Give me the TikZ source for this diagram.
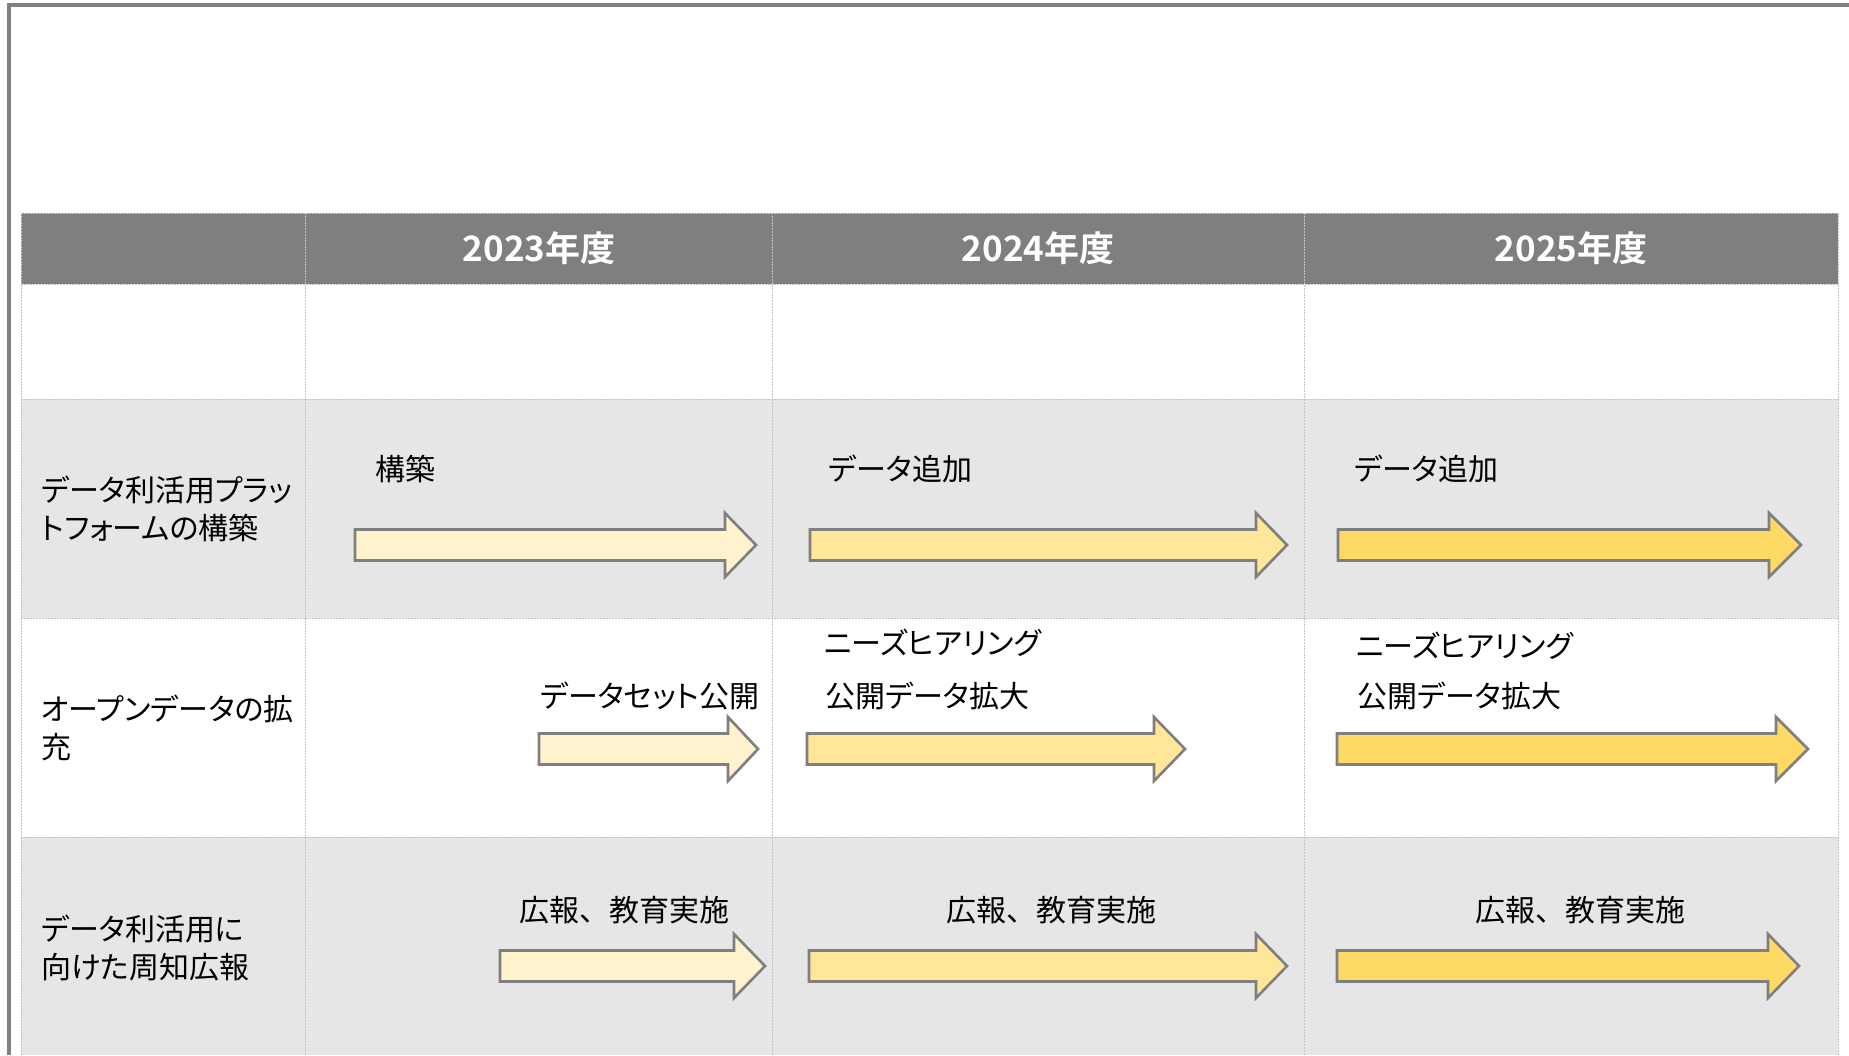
\documentclass[tikz,border=0pt]{standalone}
\usepackage{fontspec}
\newfontfamily\jp[CharacterWidth=AlternateProportional]{Noto Sans CJK JP}
\newfontfamily\jpfull{Noto Sans CJK JP}
\newfontfamily\jpbold{Noto Sans CJK JP Bold}
\definecolor{hdrgray}{HTML}{7F7F7F}
\definecolor{rowgray}{HTML}{E6E6E6}
\definecolor{gridc}{HTML}{C4C4C4}
\definecolor{framec}{HTML}{808080}
\definecolor{arrowc}{HTML}{7F7F7F}
\definecolor{yA}{HTML}{FFF2CC}
\definecolor{yB}{HTML}{FFE699}
\definecolor{yC}{HTML}{FFD966}
\tikzset{
  hdrtext/.style={font=\jpbold\fontsize{35}{40}\selectfont, text=white, inner sep=0pt},
  bodytext/.style={font=\jp\fontsize{30}{38}\selectfont, text=black, inner sep=0pt, anchor=west},
  rowlabel/.style={bodytext, align=left},
  gridline/.style={draw=gridc, line width=1pt, dash pattern=on 2pt off 1pt},
  framebar/.style={draw=framec, line width=4pt},
  blockarrow/.style={draw=arrowc, line width=2.6pt, line join=miter}
}
\newcommand\blkarrow[5]{%
  \draw[blockarrow, fill=#1] (#2,#5-15.5) -- (#3,#5-15.5) -- (#3,#5-32) -- (#4,#5)
    -- (#3,#5+32) -- (#3,#5+15.5) -- (#2,#5+15.5) -- cycle;}
\begin{document}
\begin{tikzpicture}[x=1pt,y=-1pt]
\useasboundingbox (0,0) rectangle (1849,1055);
\fill[white] (0,0) rectangle (1849,1055);
% row fills
\fill[rowgray] (21,399) rectangle (1838,618);
\fill[rowgray] (21,837) rectangle (1838,1055);
\fill[hdrgray] (21,213) rectangle (1838,284);
% grid lines
\foreach \yy in {213,284,399,618,837} \draw[gridline] (21,\yy) -- (1838,\yy);
\foreach \xx in {21,305,772,1304,1838} \draw[gridline] (\xx,213) -- (\xx,1055);
% outer frame
\draw[framebar] (7,5.3) -- (1849,5.3);
\draw[framebar] (9,3.3) -- (9,1055);
% header
\node[hdrtext] (h23) at (539,248.5) {2023年度};
\node[hdrtext] (h24) at (1038,248.5) {2024年度};
\node[hdrtext] (h25) at (1571,248.5) {2025年度};
% row labels
\node[rowlabel] (r1) at (41,509) {データ利活用プラッ\\トフォームの構築};
\node[rowlabel] (r2) at (41,728) {オープンデータの拡\\充};
\node[rowlabel] (r3) at (41,947.5) {データ利活用に\\向けた周知広報};
% arrows row 1
\blkarrow{yA}{355}{725}{756}{545}
\blkarrow{yB}{810}{1256}{1287}{545}
\blkarrow{yC}{1338}{1769}{1801}{545}
% arrows row 2
\blkarrow{yA}{539}{728}{758}{749}
\blkarrow{yB}{807}{1154}{1185}{749}
\blkarrow{yC}{1337}{1776}{1808}{749}
% arrows row 3
\blkarrow{yA}{500}{734}{765}{966}
\blkarrow{yB}{809}{1256}{1287}{966}
\blkarrow{yC}{1337}{1768}{1799}{966}
% labels
\node[bodytext] (t1a) at (375,469) {構築};
\node[bodytext] (t1b) at (828,469) {データ追加};
\node[bodytext] (t1c) at (1354,469) {データ追加};
\node[bodytext] (t2a) at (540,696) {データセット公開};
\node[bodytext] (t2b1) at (824,643) {ニーズヒアリング};
\node[bodytext] (t2b2) at (825,696) {公開データ拡大};
\node[bodytext] (t2c1) at (1356,646) {ニーズヒアリング};
\node[bodytext] (t2c2) at (1357,696) {公開データ拡大};
\node[bodytext] (t3a) at (519,910) {広報{\jpfull 、}教育実施};
\node[bodytext] (t3b) at (946,910) {広報{\jpfull 、}教育実施};
\node[bodytext] (t3c) at (1475,910) {広報{\jpfull 、}教育実施};
\end{tikzpicture}
\end{document}
